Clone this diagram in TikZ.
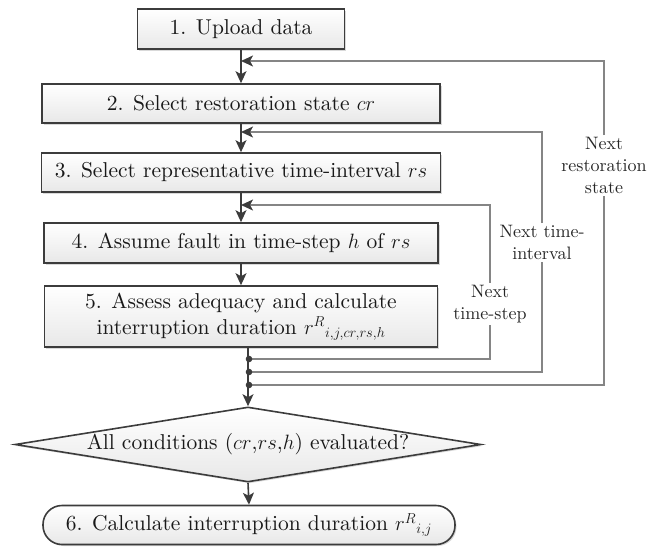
\documentclass[tikz,border=0pt]{standalone}
\usepackage{fontspec}
\setmainfont{lmroman10}[Extension=.otf, UprightFont=*-regular, ItalicFont=*-italic, BoldFont=*-bold, BoldItalicFont=*-bolditalic]
\usetikzlibrary{arrows.meta,shapes.geometric,shadows,calc}
\definecolor{edgec}{HTML}{3C3C3C}
\definecolor{fbc}{HTML}{858585}
\begin{document}
\begin{tikzpicture}[x=1pt,y=-1pt,
  box/.style={draw=edgec, line width=1.6pt, top color=white, bottom color=black!9,
    drop shadow={opacity=0.3,shadow xshift=1.5pt,shadow yshift=-1.5pt},
    inner sep=0pt, font=\fontsize{21.5}{26}\selectfont, align=center, text=black!90},
  lbl/.style={inner sep=2pt, font=\fontsize{18}{22}\selectfont, align=center, text=black!85},
  mainarr/.style={draw=edgec, line width=1.6pt, -{Stealth[length=12pt,width=11pt,inset=3pt]}},
  fbline/.style={draw=fbc, line width=1.3pt},
  fbarr/.style={draw=fbc, line width=1.3pt, -{Stealth[length=12pt,width=11pt,inset=3pt,color=edgec]}},
  dot/.style={fill=edgec}]
\useasboundingbox (0,0) rectangle (658,546);

\node[box, minimum width=207pt, minimum height=40pt] (b1) at (241,29) {1. Upload data};
\node[box, minimum width=398pt, minimum height=39pt] (b2) at (241,103.5) {2. Select restoration state $cr$};
\node[box, minimum width=399pt, minimum height=39pt] (b3) at (241,172.5) {3. Select representative time-interval $rs$};
\node[box, minimum width=394pt, minimum height=40pt] (b4) at (241,243) {4. Assume fault in time-step $h$ of $rs$};
\node[box, minimum width=393pt, minimum height=61pt] (b5) at (241,316.5) {5. Assess adequacy and calculate\\interruption duration ${r^{R}}_{i,j,cr,rs,h}$};
\node[box, diamond, aspect=6.2, minimum width=466pt, minimum height=75pt] (d) at (248,444.5) {All conditions ($cr$,$rs$,$h$) evaluated?};
\node[box, rounded corners=19pt, minimum width=412pt, minimum height=39pt] (b6) at (249,525) {6. Calculate interruption duration ${r^{R}}_{i,j}$};

\coordinate (j1) at (249,359);
\coordinate (j2) at (249,372);
\coordinate (j3) at (249,385);
\coordinate (e1) at (241,61);
\coordinate (e2) at (241,132);
\coordinate (e3) at (241,205);

\node[lbl] (ts) at (490,304) {Next\\time-step};
\node[lbl] (ti) at (542,242.5) {Next time-\\interval};
\node[lbl] (rsn) at (604,165.5) {Next\\restoration\\state};

\draw[mainarr] (b1) -- (b2);
\draw[mainarr] (b2) -- (b3);
\draw[mainarr] (b3) -- (b4);
\draw[mainarr] (b4) -- (b5);
\draw[mainarr] (b5.south -| d.north) -- (d.north);
\draw[mainarr] (d.south) -- (b6.north);

\draw[fbline] (j1) -| (ts.south);
\draw[fbarr] (ts.north) |- (e3);
\draw[fbline] (j2) -| (ti.south);
\draw[fbarr] (ti.north) |- (e2);
\draw[fbline] (j3) -| (rsn.south);
\draw[fbarr] (rsn.north) |- (e1);

\fill[dot] (j1) circle (3.3pt);
\fill[dot] (j2) circle (3.3pt);
\fill[dot] (j3) circle (3.3pt);
\end{tikzpicture}
\end{document}
